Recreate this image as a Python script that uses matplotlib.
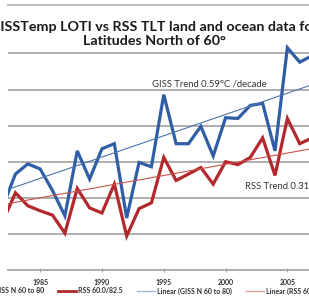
import numpy as np
import matplotlib
matplotlib.use('Agg')
import matplotlib.pyplot as plt
from matplotlib.lines import Line2D

plt.rcParams['font.family'] = ['Lato', 'DejaVu Sans']

years = list(range(1982, 2008))

giss_values = [-0.11, 0.33, 0.47, 0.40, 0.10, -0.25, 0.65, 0.26, 0.68, 0.75,
               -0.28, 0.49, 0.43, 1.43, 0.75, 0.75, 0.99, 0.58, 1.11, 1.10,
               1.28, 1.31, 0.65, 2.08, 1.88, 1.97]

rss_values = [-0.32, 0.07, -0.11, -0.18, -0.24, -0.49, 0.13, -0.14, -0.21, 0.19,
              -0.53, -0.15, -0.07, 0.56, 0.24, 0.33, 0.42, 0.19, 0.50, 0.46,
              0.56, 0.83, 0.31, 1.10, 0.75, 0.83]

# trends in degC per decade, and trend value at 1995
giss_trend = [0.59, 0.86]
rss_trend = [0.31, 0.31]

x_ticks = [1985, 1990, 1995, 2000, 2005]
x_tick_labels = ['1985', '1990', '1995', '2000', '2005']
grid_values = [-0.5, 0.0, 0.5, 1.0, 1.5, 2.0]

label_list = ['GISS N 60 to 80', 'RSS 60.0/82.5', 'Linear (GISS N 60 to 80)', 'Linear (RSS 60.0/82.5)']
color_list = ['#2f5da6', '#b3282c', '#4a74a8', '#c8524a']
legend_colors = ['#2f5da6', '#b3282c', '#9fb6d8', '#e3a2a0']

fig = plt.figure(figsize=(3.09, 3.03), dpi=100)
ax = fig.add_axes([0.026, 0.109, 0.98, 0.874])

#----------------------------------------------------------

for g in grid_values:
  ax.axhline(g, color='#a9a9a9', linewidth=1.3, zorder=1)

ax.plot(years, giss_values, '-', color=color_list[0], linewidth=2.3, zorder=3, solid_joinstyle='miter')
ax.plot(years, rss_values, '-', color=color_list[1], linewidth=2.3, zorder=3, solid_joinstyle='miter')

t = np.array([1979, 2009])
ax.plot(t, giss_trend[1] + giss_trend[0] / 10.0 * (t - 1995), '-', color=color_list[2], linewidth=0.8, zorder=4)
ax.plot(t, rss_trend[1] + rss_trend[0] / 10.0 * (t - 1995), '-', color=color_list[3], linewidth=0.8, zorder=4)

ax.text(1994.05, 1.58, 'GISS Trend 0.59\u00b0C /decade', fontsize=6.8, color='#333333', ha='left', va='center', zorder=5)
ax.text(2001.6, 0.17, 'RSS Trend 0.31\u00b0C /decade', fontsize=6.8, color='#333333', ha='left', va='center', zorder=5)

#----------------------------------------------------------

ax.set_xlim(1982.4, 2006.9)
ax.set_ylim(-1.0, 2.67)

ax.set_xticks(x_ticks)
ax.set_xticklabels(x_tick_labels, fontsize=5, color='#303030', fontweight='bold')
ax.tick_params(axis='x', direction='inout', length=3, width=0.8, color='#a0a0a0', pad=5)
ax.set_yticks([])

for s in ['left', 'right']:
  ax.spines[s].set_visible(False)
ax.spines['bottom'].set_color('#a9a9a9')
ax.spines['bottom'].set_linewidth(1.3)
ax.spines['top'].set_color('#b5b5b5')
ax.spines['top'].set_linewidth(1.3)

fig.text(0.5, 0.887, 'GISSTemp LOTI vs RSS TLT land and ocean data for\nLatitudes North of 60\u00b0',
         fontsize=10.3, fontweight='bold', color='#1a1a1a', ha='center', va='center', linespacing=1.2)

handles = []
for i in range(len(label_list)):
  lw = 2.0 if i < 2 else 1.0
  handles.append(Line2D([0], [0], color=legend_colors[i], linewidth=lw))

fig.legend(handles, label_list, loc='center', bbox_to_anchor=(0.5, 0.04), ncol=4,
           frameon=False, prop={'size': 5, 'weight': 'bold'}, handlelength=2.6,
           handletextpad=0.3, columnspacing=2.0, labelcolor='#303030')

plt.savefig('out.png', dpi=100)
plt.clf()
